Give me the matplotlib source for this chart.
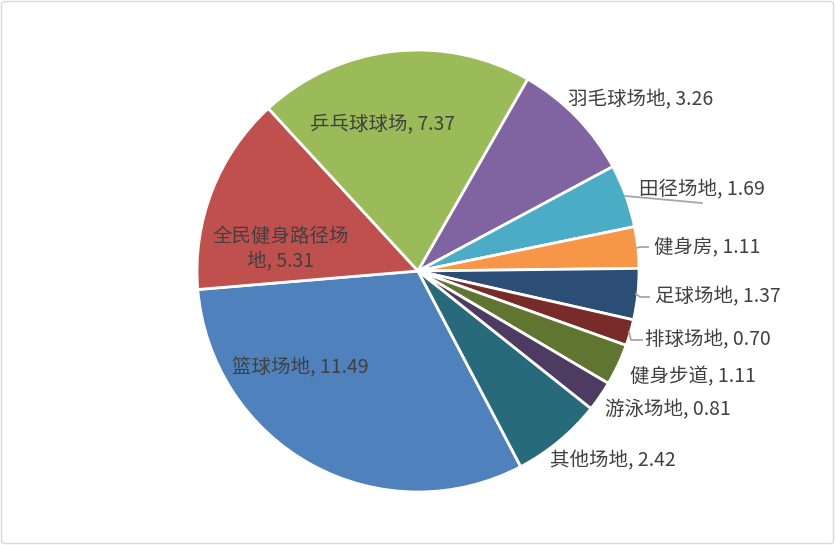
import numpy as np
import matplotlib.pyplot as plt
from matplotlib.patches import FancyBboxPatch

plt.rcParams['font.family'] = ['Noto Sans CJK SC', 'DejaVu Sans']

# data (Excel order, drawn clockwise)
categories = ['篮球场地', '全民健身路径场地', '乒乓球球场', '羽毛球场地', '田径场地', '健身房',
              '足球场地', '排球场地', '健身步道', '游泳场地', '其他场地']
values = [11.49, 5.31, 7.37, 3.26, 1.69, 1.11, 1.37, 0.70, 1.11, 0.81, 2.42]
colors = ['#4F81BD', '#C0504D', '#9BBB59', '#8064A2', '#4BACC6', '#F79646',
          '#2C4D75', '#772C2A', '#5F7530', '#4D3B62', '#276A7C']

# label text centres (pixels, origin top-left)
label_pos = [(300, 368), (281, 249), (383, 124), (641, 100), (702, 190), (707, 247),
             (718, 297), (708, 340), (693, 377), (668, 410), (613, 461)]
label_text = [f'{c}, {v:.2f}' for c, v in zip(categories, values)]
label_text[1] = '全民健身路径场\n地, 5.31'

# leader lines (pixels)
leaders = [
    [(625, 196), (702, 203)],
    [(636, 248), (640, 247), (648, 247)],
    [(636, 294), (640, 297), (649, 297)],
    [(629, 332), (631, 340), (642, 340)],
]

W, H = 835, 545
fig = plt.figure(figsize=(W / 100, H / 100), dpi=100)
ax = fig.add_axes([0, 0, 1, 1])

ax.add_patch(FancyBboxPatch((1.5, 1.5), W - 3, H - 3, boxstyle='round,pad=0,rounding_size=3',
                            facecolor='white', edgecolor='#D9D9D9', linewidth=1))

cx, cy, r = 418, H - 271, 221
ax.pie(values, colors=colors, startangle=-62.3, counterclock=False,
       center=(cx, cy), radius=r, frame=True,
       wedgeprops=dict(edgecolor='white', linewidth=2))
ax.set_xlim(0, W)
ax.set_ylim(0, H)
ax.set_aspect('equal')
ax.axis('off')

for (x, y), t in zip(label_pos, label_text):
    ax.text(x, H - y, t, ha='center', va='center', fontsize=14, color='#404040',
            linespacing=1.3)

for pts in leaders:
    xs = [p[0] for p in pts]
    ys = [H - p[1] for p in pts]
    ax.plot(xs, ys, color='#A6A6A6', linewidth=1.3)

plt.savefig('out.png', dpi=100)
